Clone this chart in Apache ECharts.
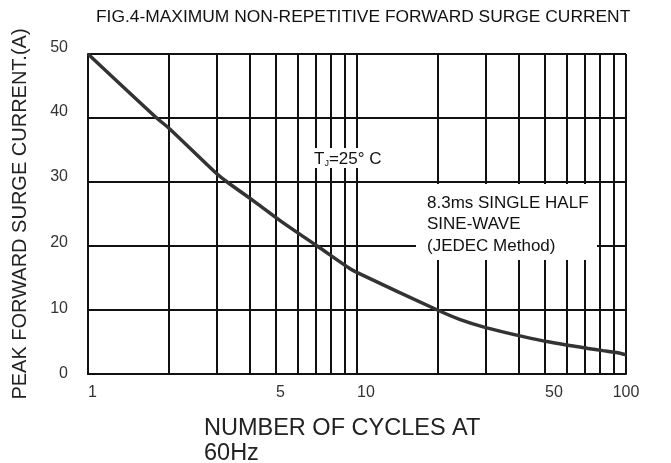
<!DOCTYPE html>
<html>
<head>
<meta charset="utf-8">
<script src="https://cdn.jsdelivr.net/npm/echarts@6/dist/echarts.min.js"></script>
<style>
html,body{margin:0;padding:0;background:#fff;}
#chart{width:671px;height:463px;}
</style>
</head>
<body>
<div id="chart"></div>
<script>
// Data (cycles at 60 Hz vs peak surge current, A)
const cycles = [1, 1.8, 2, 2.99, 3.29, 4.17, 5.24, 7.11, 9.46, 10.07, 19.9, 24.2, 30.1, 41.9, 52.6, 62.5, 72.1, 82.0, 91.9, 100];
const surgeCurrent = [50, 40, 38.4, 31.4, 30, 26.9, 23.8, 20, 16.4, 15.8, 10, 8.5, 7.25, 5.8, 4.95, 4.4, 4.0, 3.65, 3.35, 3.0];

// Axis ticks / labels
const xGridValues = [1, 2, 3, 4, 5, 6, 7, 8, 9, 10, 20, 30, 40, 50, 60, 70, 80, 90, 100];
const xLabelValues = [1, 5, 10, 50, 100];
const yTicks = [0, 10, 20, 30, 40, 50];

const titleText = 'FIG.4-MAXIMUM NON-REPETITIVE FORWARD SURGE CURRENT';
const xName = 'NUMBER OF CYCLES AT\n60Hz';
const yName = 'PEAK FORWARD SURGE CURRENT.(A)';
const noteLines = ['8.3ms SINGLE HALF', 'SINE-WAVE', '(JEDEC Method)'];

const chart = echarts.init(document.getElementById('chart'), null, {renderer: 'canvas'});

const yOffsets = {0: 0, 10: 1, 20: 3, 30: 5, 40: 6, 50: 6};
const yRich = {};
yTicks.forEach(v => {
  yRich['s' + v] = {fontSize: 16, fontFamily: 'Liberation Sans', color: '#333', padding: [0, 0, 2 * yOffsets[v], 0]};
});

const option = {
  animation: false,
  backgroundColor: '#fff',
  title: {
    text: titleText,
    left: 96,
    top: 9,
    padding: 0,
    textStyle: {fontSize: 17.4, fontWeight: 'normal', fontFamily: 'Liberation Sans', color: '#111', lineHeight: 17}
  },
  grid: {left: 88, right: 45, top: 54, bottom: 89, containLabel: false, outerBoundsMode: 'none'},
  xAxis: {
    type: 'log',
    logBase: 10,
    min: 1,
    max: 100,
    name: xName,
    nameLocation: 'start',
    nameGap: 0,
    nameMoveOverlap: false,
    nameTextStyle: {
      fontSize: 23.5, fontFamily: 'Liberation Sans', color: '#222', align: 'left', verticalAlign: 'top',
      lineHeight: 25, padding: [42, 0, 0, 116]
    },
    axisLine: {show: true, lineStyle: {color: '#111', width: 2}},
    axisTick: {show: false, customValues: xGridValues},
    axisLabel: {
      customValues: xLabelValues,
      align: 'left',
      alignMaxLabel: 'center',
      verticalAlign: 'middle',
      margin: 19,
      fontSize: 16,
      fontFamily: 'Liberation Sans',
      color: '#333',
      hideOverlap: false,
      formatter: v => String(Math.round(v))
    },
    splitLine: {show: true, lineStyle: {color: '#111', width: 2}},
    minorSplitLine: {show: false}
  },
  yAxis: {
    type: 'value',
    min: 0,
    max: 50,
    interval: 10,
    name: yName,
    nameLocation: 'middle',
    nameRotate: 90,
    nameGap: 58,
    nameMoveOverlap: false,
    nameTextStyle: {fontSize: 20, fontFamily: 'Liberation Sans', color: '#222'},
    axisLine: {show: true, lineStyle: {color: '#111', width: 2}},
    axisTick: {show: false},
    axisLabel: {
      margin: 20,
      formatter: v => '{s' + v + '|' + v + '}',
      rich: yRich
    },
    splitLine: {show: true, lineStyle: {color: '#111', width: 2}}
  },
  series: [{
    type: 'line',
    data: cycles.map((c, i) => [c, surgeCurrent[i]]),
    showSymbol: false,
    smooth: 0.3,
    lineStyle: {color: '#333', width: 3.5},
    z: 5
  }],
  graphic: [
    {type: 'rect', z: 100, shape: {x: 312, y: 148, width: 71, height: 20}, style: {fill: '#fff'}},
    {
      type: 'text', z: 101, x: 314, y: 159,
      style: {
        text: '{t|T}{j|J}{t|=25° C}',
        verticalAlign: 'middle',
        rich: {
          t: {fontSize: 17, fontFamily: 'Liberation Sans', fill: '#111', lineHeight: 18},
          j: {fontSize: 9, fontFamily: 'Liberation Sans', fill: '#111', lineHeight: 18, verticalAlign: 'bottom', padding: [5, 0, 0, 0]}
        }
      }
    },
    {type: 'rect', z: 100, shape: {x: 416, y: 184, width: 181, height: 76}, style: {fill: '#fff'}},
    {
      type: 'text', z: 101, x: 427, y: 192,
      style: {
        text: noteLines.join('\n'),
        fontSize: 17, fontFamily: 'Liberation Sans', fill: '#111',
        lineHeight: 21.7, verticalAlign: 'top'
      }
    }
  ]
};

chart.setOption(option);
</script>
</body>
</html>
